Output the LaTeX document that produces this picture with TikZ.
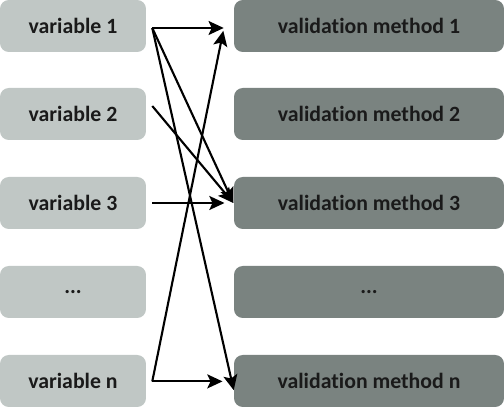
\documentclass[tikz,border=0pt]{standalone}
\usepackage{fontspec}
\setmainfont{Carlito}[Ligatures=NoCommon]
\usepackage{tikz}
\usetikzlibrary{positioning, calc, arrows.meta}
\definecolor{varfill}{RGB}{192,199,197}
\definecolor{methfill}{RGB}{122,131,128}
\definecolor{boxtext}{RGB}{26,26,26}

\begin{document}
\begin{tikzpicture}[>={Stealth[length=3.8mm,width=3.5mm,inset=0.8mm]}, font=\fontsize{15.5}{18}\selectfont\bfseries]
  \useasboundingbox (0,0) rectangle (12.6,10.2);
  \tikzset{
    varbox/.style={fill=varfill, text=boxtext, rounded corners=2.2mm, minimum width=3.65cm, minimum height=1.3cm},
    methbox/.style={fill=methfill, text=boxtext, rounded corners=2.2mm, minimum width=6.75cm, minimum height=1.3cm},
    link/.style={->, line width=1.5pt}
  }

    \node[varbox] (v1) at (1.825,9.55) {variable 1};
    \node[varbox] (v2) at (1.825,7.35) {variable 2};
    \node[varbox] (v3) at (1.825,5.125) {variable 3};
    \node[varbox] (vd) at (1.825,2.9) {...};
    \node[varbox] (vn) at (1.825,0.675) {variable n};

    \node[methbox] (m1) at (9.225,9.55) {validation method 1};
    \node[methbox] (m2) at (9.225,7.35) {validation method 2};
    \node[methbox] (m3) at (9.225,5.125) {validation method 3};
    \node[methbox] (md) at (9.225,2.9) {...};
    \node[methbox] (mn) at (9.225,0.675) {validation method n};

    % straight across
    \draw[link] ([xshift=1.5mm,yshift=-0.5mm]v1.east) -- ([xshift=-2.5mm,yshift=-0.5mm]m1.west);
    \draw[link] ([xshift=1.5mm]v3.east) -- ([xshift=-2.3mm]m3.west);
    \draw[link] ([xshift=1.5mm,yshift=-0.1mm]vn.east) -- ([xshift=-2.8mm,yshift=-0.1mm]mn.west);
    % crossing links
    \draw[link] ([xshift=1.5mm,yshift=-0.5mm]v1.east) -- ([xshift=-0.1mm]m3.west);
    \draw[link] ([xshift=1.5mm,yshift=-0.5mm]v1.east) -- ([xshift=0mm,yshift=-2.3mm]mn.west);
    \draw[link] ([xshift=1.5mm,yshift=2mm]v2.east) -- ([xshift=-0.1mm]m3.west);
    \draw[link] ([xshift=1.5mm,yshift=-0.1mm]vn.east) -- ([xshift=-2.6mm,yshift=-1.2mm]m1.west);

\end{tikzpicture}
\end{document}
